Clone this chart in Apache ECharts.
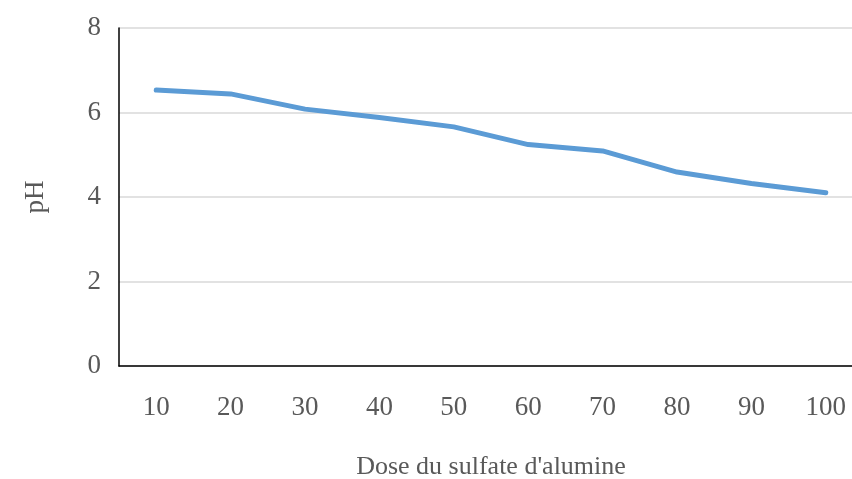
<!DOCTYPE html>
<html>
<head>
<meta charset="utf-8">
<script src="https://cdn.jsdelivr.net/npm/echarts@6/dist/echarts.min.js"></script>
<style>
  html, body { margin: 0; padding: 0; background: #ffffff; }
  #chart { width: 852px; height: 479px; }
</style>
</head>
<body>
<div id="chart"></div>
<script>
// Dose of aluminium sulfate vs. pH
const doses = ['10', '20', '30', '40', '50', '60', '70', '80', '90', '100'];
const phValues = [6.53, 6.44, 6.08, 5.88, 5.66, 5.24, 5.09, 4.59, 4.32, 4.10];
const yTicks = { min: 0, max: 8, interval: 2 };

const chart = echarts.init(document.getElementById('chart'), null, { renderer: 'canvas' });
const font = '"Liberation Serif", "Times New Roman", serif';

chart.setOption({
  backgroundColor: '#ffffff',
  animation: false,
  grid: {
    left: 119, width: 744, top: 28, height: 338,
    containLabel: false,
    outerBoundsMode: 'none'
  },
  xAxis: {
    type: 'category',
    data: doses,
    boundaryGap: true,
    name: "Dose du sulfate d'alumine",
    nameLocation: 'middle',
    nameGap: 88,
    nameTextStyle: { fontFamily: font, fontSize: 26, color: '#595959' },
    axisLine: { show: true, lineStyle: { color: '#000000', width: 1.5 } },
    axisTick: { show: false },
    axisLabel: { fontFamily: font, fontSize: 27, color: '#595959', margin: 28 },
    splitLine: { show: false }
  },
  yAxis: {
    type: 'value',
    min: yTicks.min,
    max: yTicks.max,
    interval: yTicks.interval,
    name: 'pH',
    nameLocation: 'middle',
    nameGap: 70,
    nameRotate: 90,
    nameTextStyle: { fontFamily: font, fontSize: 27, color: '#595959' },
    axisLine: { show: true, lineStyle: { color: '#000000', width: 1.5 } },
    axisTick: { show: false },
    axisLabel: { fontFamily: font, fontSize: 27, color: '#595959', margin: 18 },
    splitLine: { show: true, lineStyle: { color: '#d9d9d9', width: 1.5 } }
  },
  series: [{
    type: 'line',
    data: phValues,
    showSymbol: false,
    symbol: 'none',
    lineStyle: { color: '#5b9bd5', width: 5, cap: 'round', join: 'round' },
    smooth: false
  }]
});
</script>
</body>
</html>
